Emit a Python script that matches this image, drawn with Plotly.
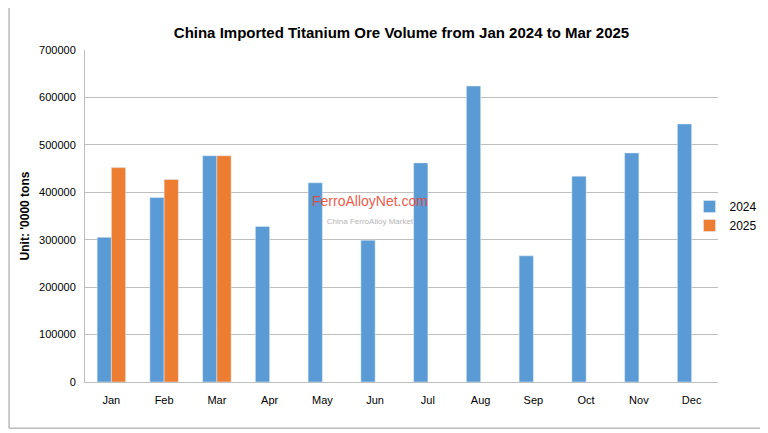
import plotly.graph_objects as go

months = ["Jan","Feb","Mar","Apr","May","Jun","Jul","Aug","Sep","Oct","Nov","Dec"]
v2024 = [305000,389000,477000,328000,420000,299000,462000,624000,266000,434000,483000,544000]
v2025 = [452000,427000,477000]

fig = go.Figure()
fig.add_bar(x=months, y=v2024, name="2024", marker_color="#5B9BD5")
fig.add_bar(x=months[:3], y=v2025, name="2025", marker_color="#ED7D31")
fig.update_layout(
    width=768, height=433, barmode="group", bargap=0.46, bargroupgap=0,
    paper_bgcolor="white", plot_bgcolor="white",
    margin=dict(l=77, r=58, t=42, b=59, autoexpand=False),
    font=dict(family="Liberation Sans, Arial", size=11, color="#000"),
    title=dict(text="<b>China Imported Titanium Ore Volume from Jan 2024 to Mar 2025</b>",
               x=(77+633/2)/768, xanchor="center", y=0.954, font=dict(size=15)),
    legend=dict(x=0.955, xanchor="left", y=0.5, yanchor="middle", font=dict(size=12),
                bgcolor="rgba(0,0,0,0)", itemwidth=30),
    xaxis=dict(showline=True, linecolor="#bfbfbf", ticks="", tickfont=dict(size=11),
               ticklabelstandoff=8),
    yaxis=dict(range=[0,700000], dtick=100000, tickformat="d", gridcolor="#bfbfbf",
               showline=True, linecolor="#bfbfbf", ticklabelstandoff=6,
               title=dict(text="<b>Unit: '0000 tons</b>", font=dict(size=12), standoff=6)),
    shapes=[dict(type="rect", xref="paper", yref="paper", x0=-0.12, x1=1.076, y0=-0.139, y1=1.14,
                 line=dict(color="#999", width=1))],
    annotations=[dict(text="<span style='color:#e8412c'>FerroAlloyNet.com</span><br><span style='font-size:8px;color:#aaa'>China FerroAlloy Market</span>",
                      x=0.45, y=0.52, xref="paper", yref="paper", showarrow=False,
                      font=dict(size=14), opacity=0.85)],
)
fig.write_html("out.html")
